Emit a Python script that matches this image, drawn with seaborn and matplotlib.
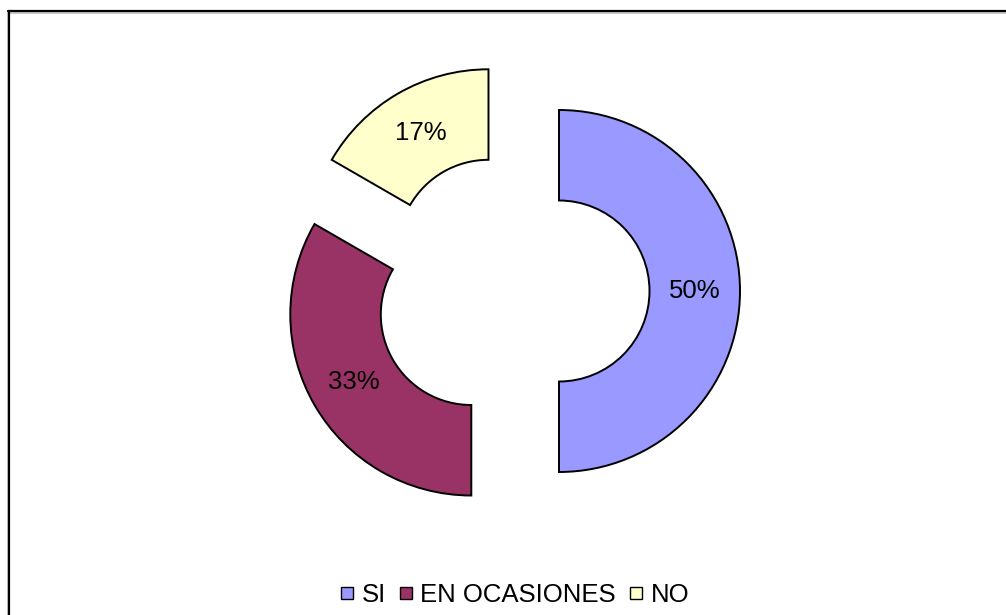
import matplotlib
matplotlib.use("Agg")
import matplotlib.pyplot as plt
import seaborn as sns
from matplotlib.lines import Line2D

# data
categories = ["SI", "EN OCASIONES", "NO"]
values = [50, 33.33, 16.67]
colors = ["#9999FF", "#993366", "#FFFFCC"]

sns.set_theme(style="white")
plt.rcParams["font.family"] = ["Liberation Sans", "DejaVu Sans"]
plt.rcParams["text.color"] = "black"

W, H = 1006, 615
fig = plt.figure(figsize=(W / 100, H / 100), dpi=100)
ax = fig.add_axes([0, 0, 1, 1])

# exploded donut, axes units = pixels
radius = 181
cx, cy = 512, H - 291
wedges, texts, autotexts = ax.pie(
    values,
    colors=sns.color_palette(colors),
    startangle=90,
    counterclock=False,
    radius=radius,
    center=(cx, cy),
    explode=[47, 47, 47],
    autopct="%1.0f%%",
    pctdistance=0.75,
    wedgeprops=dict(width=radius * 0.5, edgecolor="black", linewidth=1.4),
    textprops=dict(fontsize=18.5, color="black"),
)
ax.set_xlim(0, W)
ax.set_ylim(0, H)
ax.set_aspect("equal")
ax.axis("off")

# frame lines (top and left)
fig.add_artist(Line2D([9 / W, 1], [1 - 12.5 / H, 1 - 12.5 / H], color="#c8c8c8", lw=1.5))
fig.add_artist(Line2D([8 / W, 8 / W], [0, 1 - 10.5 / H], color="#c8c8c8", lw=1.5))
fig.add_artist(Line2D([8 / W, 1], [1 - 11 / H, 1 - 11 / H], color="black", lw=1.6))
fig.add_artist(Line2D([9 / W, 9 / W], [0, 1 - 11 / H], color="black", lw=1.6))

# legend
handles = [
    Line2D([], [], marker="s", linestyle="none", markersize=9,
           markerfacecolor=c, markeredgecolor="black", markeredgewidth=1.0)
    for c in colors
]
fig.legend(handles, categories, loc="center", bbox_to_anchor=(515 / W, 20 / H),
           ncol=3, frameon=False, fontsize=18.5, labelcolor="black",
           handlelength=0.5, handletextpad=0.3, columnspacing=0.55, borderpad=0)

plt.savefig("out.png", dpi=100)
